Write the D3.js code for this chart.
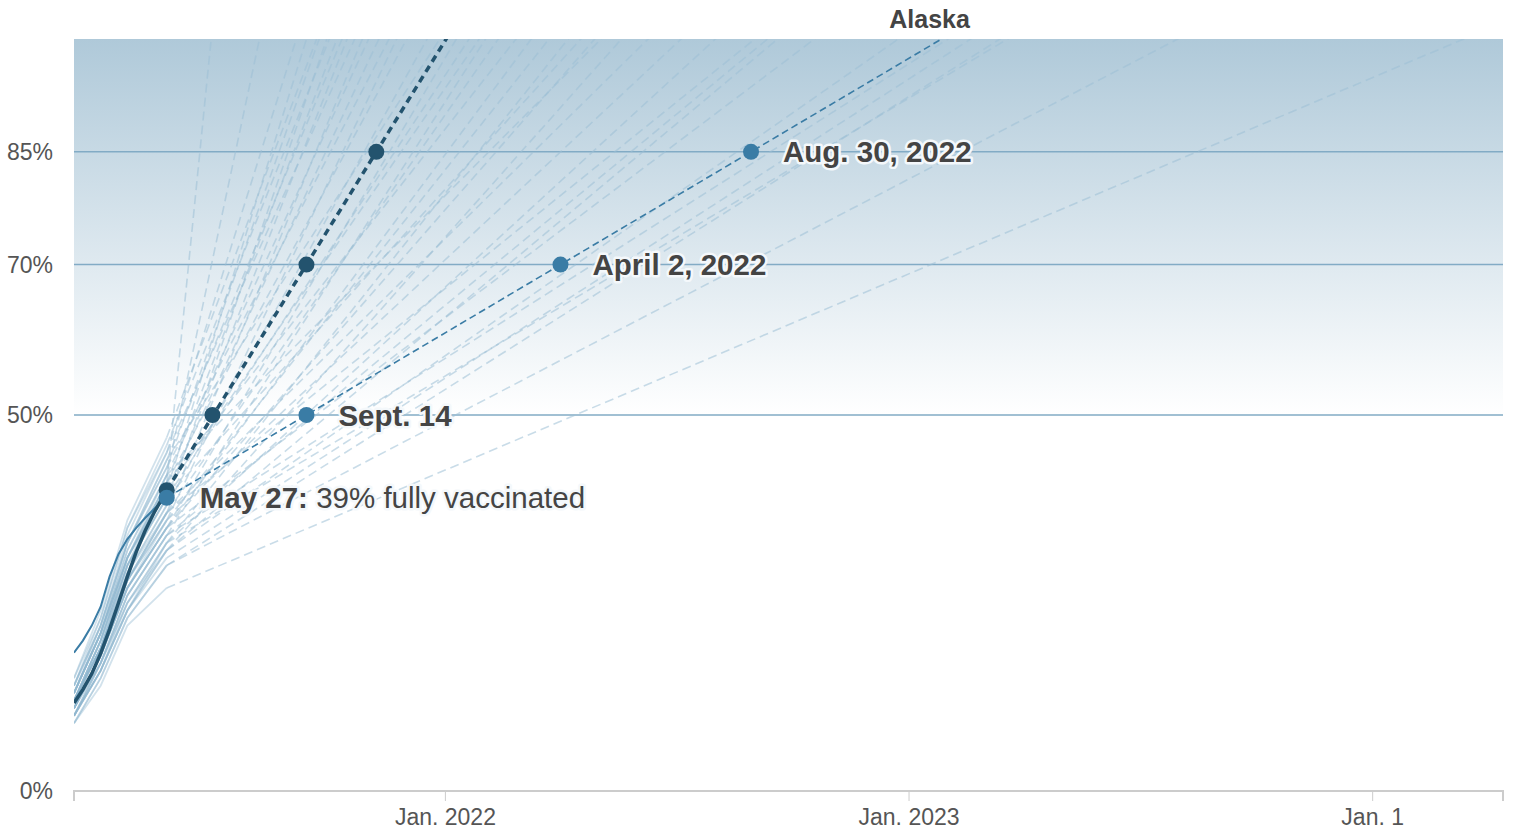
<!DOCTYPE html>
<html>
<head>
<meta charset="utf-8">
<script src="https://cdn.jsdelivr.net/npm/d3@7"></script>
<style>
  body { margin: 0; background: #fff; }
  svg { display: block; font-family: "Liberation Sans", Arial, Helvetica, sans-serif; }
  .halo { paint-order: stroke; stroke: #f4f8fb; stroke-width: 5px; stroke-linejoin: round; }
</style>
</head>
<body>
<svg id="chart"></svg>
<script>
// observed dates for the solid part of every line
const histDates = ["2021-03-15", "2021-03-22", "2021-03-29", "2021-04-05", "2021-04-12", "2021-04-19",
  "2021-04-26", "2021-05-03", "2021-05-10", "2021-05-17", "2021-05-27"];
const usValues = [11.7, 13.5, 15.6, 18.3, 21.5, 25.0, 28.5, 31.8, 34.6, 37.0, 40.0];
const akValues = [18.4, 20.0, 22.0, 24.5, 28.5, 31.5, 33.5, 35.0, 36.3, 37.5, 39.0];

// projections at current pace: date a line reaches each goal
const goals = [50, 70, 85, 100];
const usGoalDates = ["2021-07-02", "2021-09-14", "2021-11-08", "2022-01-02"];
const akGoalDates = ["2021-09-14", "2022-04-02", "2022-08-30", "2023-01-27"];
const akGoalLabels = ["Sept. 14", "April 2, 2022", "Aug. 30, 2022"];

// other states: values on a few dates, then date projected to reach 100%
const stateDates = ["2021-03-15", "2021-04-05", "2021-04-26", "2021-05-27"];
const stateValues = [
  [12, 19, 30, 41], [13, 21, 32, 42], [14, 22, 34, 45], [12, 20, 31, 40], [15, 24, 36, 47],
  [13, 21, 33, 43], [11, 18, 29, 38], [14, 23, 35, 46], [12, 20, 31, 41], [13, 22, 33, 44],
  [12, 19, 30, 39], [15, 23, 35, 45], [11, 18, 28, 37], [13, 21, 32, 42], [12, 20, 30, 40],
  [14, 22, 33, 43], [11, 18, 28, 36], [13, 21, 31, 41], [12, 19, 29, 38], [14, 22, 33, 44],
  [11, 18, 27, 35], [12, 20, 30, 39], [13, 21, 31, 40], [10, 17, 26, 34], [12, 19, 29, 37],
  [13, 21, 31, 41], [11, 18, 27, 35], [12, 19, 28, 36], [10, 17, 25, 33], [12, 20, 30, 39],
  [11, 18, 27, 35], [13, 21, 31, 42], [10, 16, 25, 32], [12, 19, 28, 37], [11, 18, 27, 36],
  [10, 17, 25, 33], [12, 19, 28, 37], [11, 17, 26, 34], [10, 16, 24, 32], [11, 18, 27, 35],
  [10, 16, 24, 32], [11, 17, 26, 34], [10, 16, 24, 31], [9, 15, 23, 30], [10, 16, 24, 33],
  [9, 15, 23, 30], [9, 14, 22, 27]
];
const stateFull = [
  "2021-07-01", "2021-08-08", "2021-09-06", "2021-09-14", "2021-09-22", "2021-09-24", "2021-09-30",
  "2021-10-02", "2021-10-08", "2021-10-12", "2021-10-16", "2021-10-22", "2021-10-28", "2021-11-02",
  "2021-11-10", "2021-11-18", "2021-11-24", "2021-12-02", "2021-12-18", "2021-12-28", "2022-01-10",
  "2022-01-20", "2022-01-28", "2022-02-02", "2022-02-12", "2022-02-26", "2022-03-10", "2022-03-24",
  "2022-04-08", "2022-04-18", "2022-04-29", "2022-05-04", "2022-05-20", "2022-06-10", "2022-07-06",
  "2022-08-02", "2022-09-02", "2022-09-12", "2022-09-20", "2022-10-19", "2022-12-24", "2023-02-01",
  "2023-02-19", "2023-03-14", "2023-03-20", "2023-08-01", "2024-03-13"
];

const yTicks = [0, 50, 70, 85];
const xTicks = ["2022-01-01", "2023-01-01", "2024-01-01"];
const xTickLabels = ["Jan. 2022", "Jan. 2023", "Jan. 1"];

const width = 1513, height = 832;
const margin = { top: 39, right: 10, bottom: 41, left: 74 };
const parse = d3.timeParse("%Y-%m-%d");

const svg = d3.select("#chart").attr("width", width).attr("height", height);

const x = d3.scaleTime()
  .domain([parse("2021-03-15"), parse("2024-04-13")])
  .range([margin.left, width - margin.right]);
const y = d3.scaleLinear()
  .domain([0, 100])
  .range([height - margin.bottom, margin.top]);

const defs = svg.append("defs");
const grad = defs.append("linearGradient")
  .attr("id", "bg").attr("gradientUnits", "userSpaceOnUse")
  .attr("x1", 0).attr("x2", 0).attr("y1", y(100)).attr("y2", y(50));
grad.append("stop").attr("offset", 0).attr("stop-color", "#afc9d9");
grad.append("stop").attr("offset", 1).attr("stop-color", "#ffffff");

defs.append("clipPath").attr("id", "plot")
  .append("rect")
  .attr("x", x.range()[0]).attr("y", y(100))
  .attr("width", x.range()[1] - x.range()[0])
  .attr("height", y(0) - y(100));

svg.append("rect")
  .attr("x", x.range()[0]).attr("y", y(100))
  .attr("width", x.range()[1] - x.range()[0])
  .attr("height", y(50) - y(100))
  .attr("fill", "url(#bg)");

// goal lines
svg.selectAll(".goal").data(yTicks.filter(d => d > 0)).join("line")
  .attr("x1", x.range()[0]).attr("x2", x.range()[1])
  .attr("y1", d => y(d)).attr("y2", d => y(d))
  .attr("stroke", "#82abc5").attr("stroke-width", 1.5);

svg.selectAll(".ylab").data(yTicks).join("text")
  .attr("x", 53).attr("y", d => y(d)).attr("dy", "0.35em")
  .attr("text-anchor", "end").attr("font-size", 23).attr("fill", "#555")
  .text(d => d + "%");

// x axis
const xAxis = svg.append("g")
  .attr("transform", `translate(0,${y(0)})`)
  .call(d3.axisBottom(x).tickValues(xTicks.map(parse)).tickSize(10)
    .tickFormat((d, i) => xTickLabels[i]));
xAxis.select(".domain").attr("stroke", "#ccc").attr("stroke-width", 2).attr("d",
  `M${x.range()[0]},10V0H${x.range()[1]}V10`);
xAxis.selectAll(".tick line").attr("stroke", "#ccc");
xAxis.selectAll(".tick text").attr("font-size", 23).attr("fill", "#555")
  .attr("font-family", "Liberation Sans, Arial, sans-serif").attr("dy", "0.9em");

const lines = svg.append("g").attr("clip-path", "url(#plot)");
const line = d3.line().x(d => x(d[0])).y(d => y(d[1]));

function project(lastDate, lastVal, fullDate) {
  // straight line at current pace, carried past 100% so the clip cuts it at the top
  const t0 = parse(lastDate), t1 = parse(fullDate);
  const rate = (100 - lastVal) / (t1 - t0);
  const t2 = new Date(+t1 + (t1 - t0));
  return [[t0, lastVal], [t2, lastVal + rate * (t2 - t0)]];
}

// faint state lines
stateValues.forEach((vals, i) => {
  const pts = vals.map((v, j) => [parse(stateDates[j]), v]);
  lines.append("path").attr("d", line(pts))
    .attr("fill", "none").attr("stroke", "#8fb6cf").attr("stroke-opacity", 0.4)
    .attr("stroke-width", 1.8);
  lines.append("path").attr("d", line(project(stateDates[3], vals[3], stateFull[i])))
    .attr("fill", "none").attr("stroke", "#9dbfd5").attr("stroke-opacity", 0.55)
    .attr("stroke-width", 1.6).attr("stroke-dasharray", "9,5");
});

// Alaska
const akPts = akValues.map((v, i) => [parse(histDates[i]), v]);
lines.append("path").attr("d", line(akPts))
  .attr("fill", "none").attr("stroke", "#3a7ca5").attr("stroke-width", 2);
lines.append("path")
  .attr("d", line(project(histDates[10], akValues[10], akGoalDates[3])))
  .attr("fill", "none").attr("stroke", "#3a7ca5").attr("stroke-width", 1.6)
  .attr("stroke-dasharray", "7,4");

// United States
const usPts = usValues.map((v, i) => [parse(histDates[i]), v]);
lines.append("path").attr("d", line(usPts))
  .attr("fill", "none").attr("stroke", "#23536e").attr("stroke-width", 3.5);
lines.append("path")
  .attr("d", line(project(histDates[10], usValues[10], usGoalDates[3])))
  .attr("fill", "none").attr("stroke", "#23536e").attr("stroke-width", 3.5)
  .attr("stroke-dasharray", "7,5");

// dots
const usDots = [[parse(histDates[10]), usValues[10]]]
  .concat(goals.slice(0, 3).map((g, i) => [parse(usGoalDates[i]), g]));
const akDots = [[parse(histDates[10]), akValues[10]]]
  .concat(goals.slice(0, 3).map((g, i) => [parse(akGoalDates[i]), g]));

svg.selectAll(".usdot").data(usDots).join("circle")
  .attr("cx", d => x(d[0])).attr("cy", d => y(d[1])).attr("r", 8)
  .attr("fill", "#23536e");
svg.selectAll(".akdot").data(akDots).join("circle")
  .attr("cx", d => x(d[0])).attr("cy", d => y(d[1])).attr("r", 8)
  .attr("fill", "#3a7ca5");

// labels
svg.selectAll(".aklab").data(akGoalLabels).join("text")
  .attr("class", "halo")
  .attr("x", (d, i) => x(parse(akGoalDates[i])) + 32)
  .attr("y", (d, i) => y(goals[i])).attr("dy", "0.36em")
  .attr("font-size", 29.5).attr("font-weight", "bold").attr("fill", "#444")
  .text(d => d);

const may = svg.append("text").attr("class", "halo")
  .attr("x", x(parse(histDates[10])) + 33).attr("y", y(akValues[10])).attr("dy", "0.36em")
  .attr("font-size", 29.5).attr("fill", "#444");
may.append("tspan").attr("font-weight", "bold").text("May 27:");
may.append("tspan").text(` ${Math.round(akValues[10])}% fully vaccinated`);

svg.append("text")
  .attr("x", x(parse(akGoalDates[3])) - 12).attr("y", 28)
  .attr("text-anchor", "middle").attr("font-size", 25).attr("font-weight", "bold")
  .attr("fill", "#444").text("Alaska");
</script>
</body>
</html>
